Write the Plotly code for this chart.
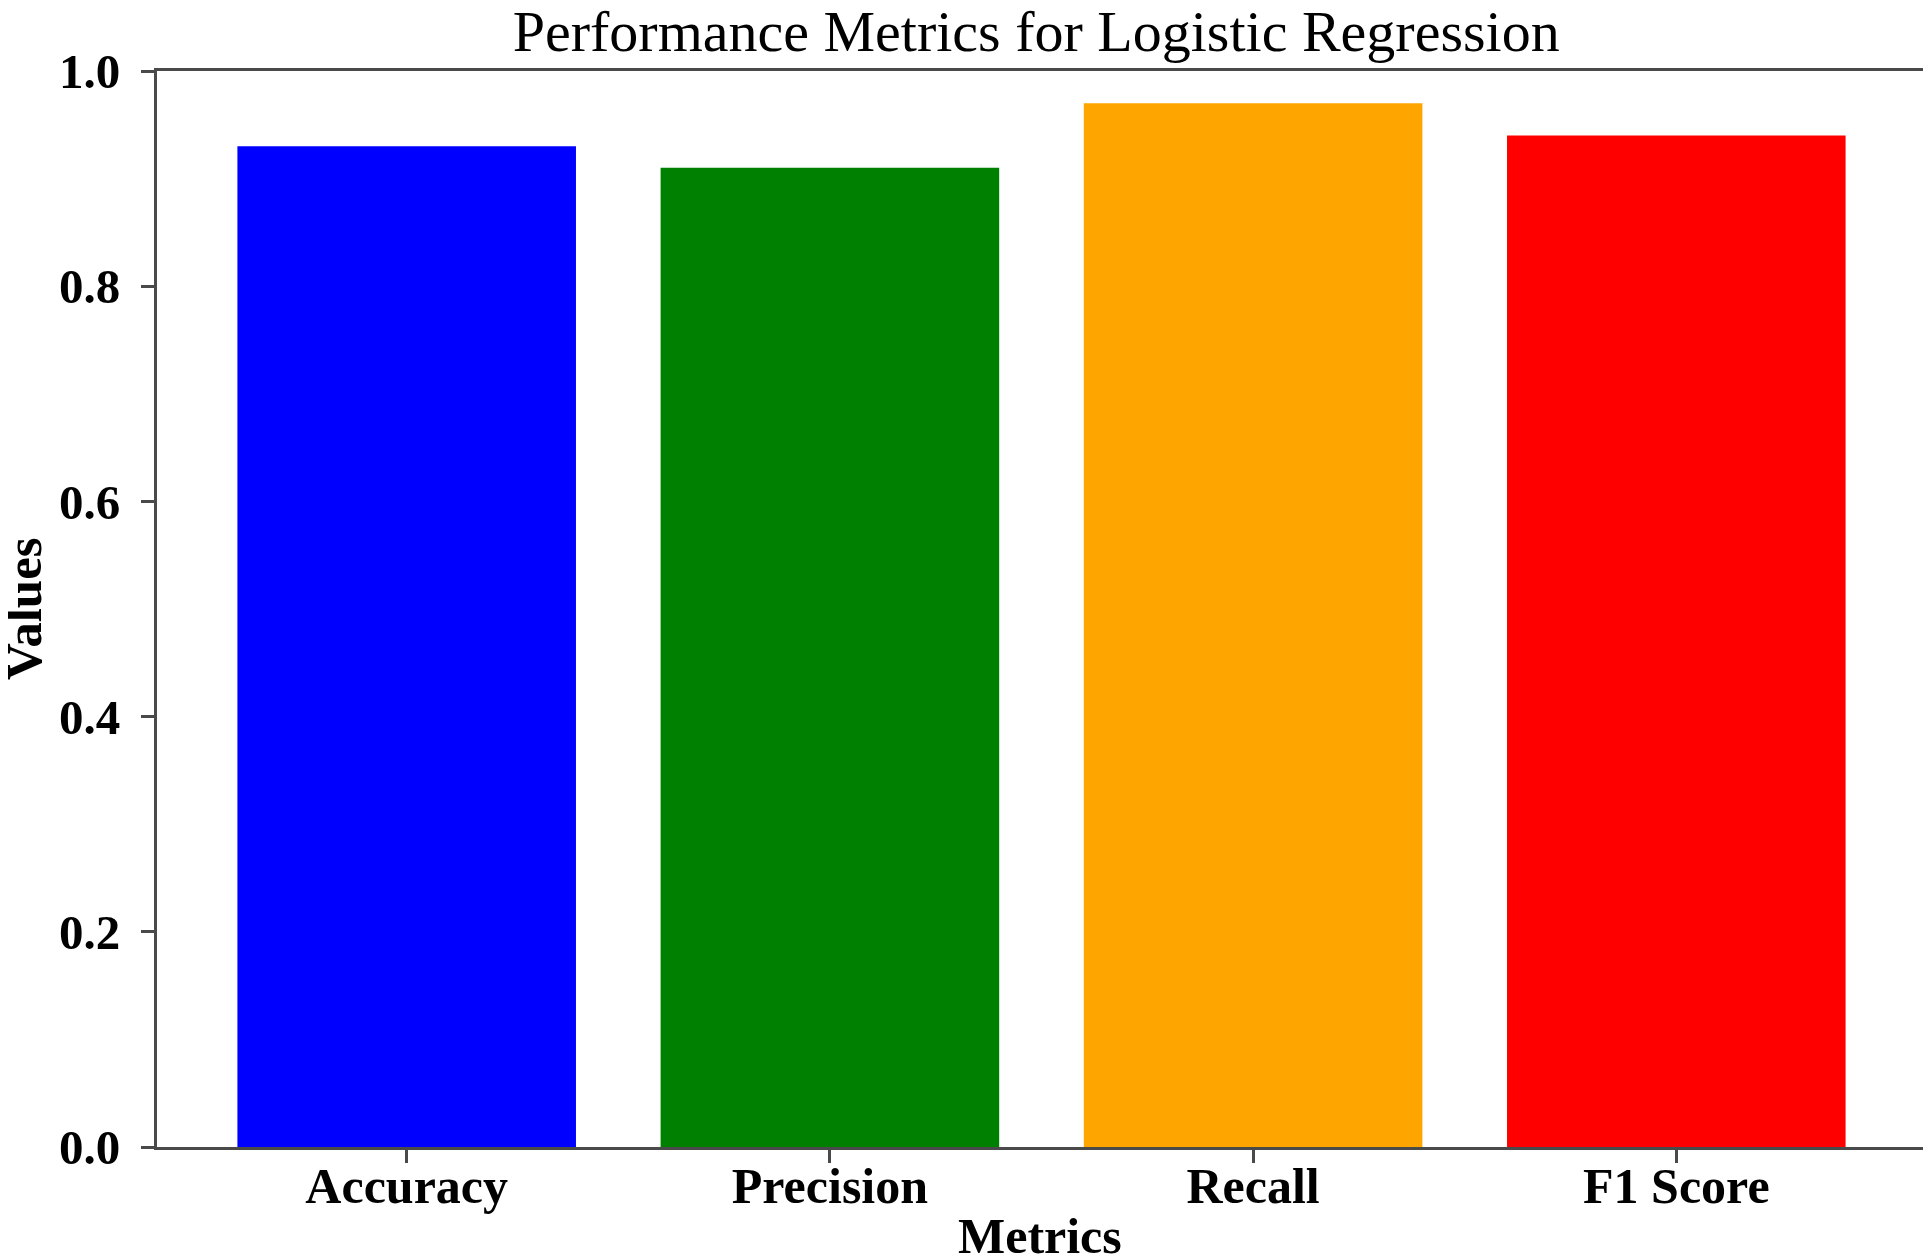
import plotly.graph_objects as go

metrics = ["Accuracy", "Precision", "Recall", "F1 Score"]
values = [0.93, 0.91, 0.97, 0.94]
colors = ["#0000FF", "#008000", "#FFA500", "#FF0000"]
y_ticks = [0.0, 0.2, 0.4, 0.6, 0.8, 1.0]
y_tick_labels = ["0.0", "0.2", "0.4", "0.6", "0.8", "1.0"]

FONT = "Liberation Serif"
AXIS_COLOR = "#4a4a4a"

# the page body has an 8px margin, so the figure is sized and placed to fit
OFF = 8
W, H = 1931 - OFF, 1260 - OFF
L, R, T, B = 157 - OFF, 5, 71 - OFF, 113
plot_w = W - L - R
plot_h = H - T - B

fig = go.Figure(
    go.Bar(
        x=metrics,
        y=values,
        marker=dict(color=colors, line=dict(width=0)),
        width=0.8,
    )
)

fig.update_layout(
    width=W,
    height=H,
    paper_bgcolor="white",
    plot_bgcolor="white",
    margin=dict(l=L, r=R, t=T, b=B, autoexpand=False),
    showlegend=False,
    font=dict(family=FONT, color="black"),
    title=dict(
        text="Performance Metrics for Logistic Regression",
        font=dict(family=FONT, size=58, color="black"),
        x=0.497,
        xref="paper",
        xanchor="center",
        y=1 - 23 / H,
        yref="container",
        yanchor="middle",
        automargin=False,
    ),
    annotations=[
        dict(
            text="<b>Metrics</b>",
            xref="paper", yref="paper",
            x=0.499, y=-(B + 6) / plot_h,
            xanchor="center", yanchor="bottom",
            showarrow=False,
            font=dict(family=FONT, size=50, color="black"),
        ),
        dict(
            text="<b>Values</b>",
            xref="paper", yref="paper",
            x=-(L - 16) / plot_w, y=0.5,
            xanchor="center", yanchor="middle",
            textangle=-90,
            showarrow=False,
            font=dict(family=FONT, size=51, color="black"),
        ),
    ],
)

fig.update_xaxes(
    type="category",
    range=[-0.59, 3.59],
    showline=True,
    linecolor=AXIS_COLOR,
    linewidth=3,
    mirror=True,
    ticks="outside",
    ticklen=13,
    tickwidth=3,
    tickcolor=AXIS_COLOR,
    tickfont=dict(family=FONT, size=50, color="black", weight="bold"),
    ticklabelstandoff=-20,
    showgrid=False,
    zeroline=False,
    automargin=False,
)

fig.update_yaxes(
    range=[0, 1.0],
    tickvals=y_ticks,
    ticktext=y_tick_labels,
    showline=True,
    linecolor=AXIS_COLOR,
    linewidth=3,
    mirror=True,
    ticks="outside",
    ticklen=13,
    tickwidth=3,
    tickcolor=AXIS_COLOR,
    tickfont=dict(family=FONT, size=49, color="black", weight="bold"),
    ticklabelstandoff=11,
    showgrid=False,
    zeroline=False,
    automargin=False,
)

fig.write_html("out.html")
